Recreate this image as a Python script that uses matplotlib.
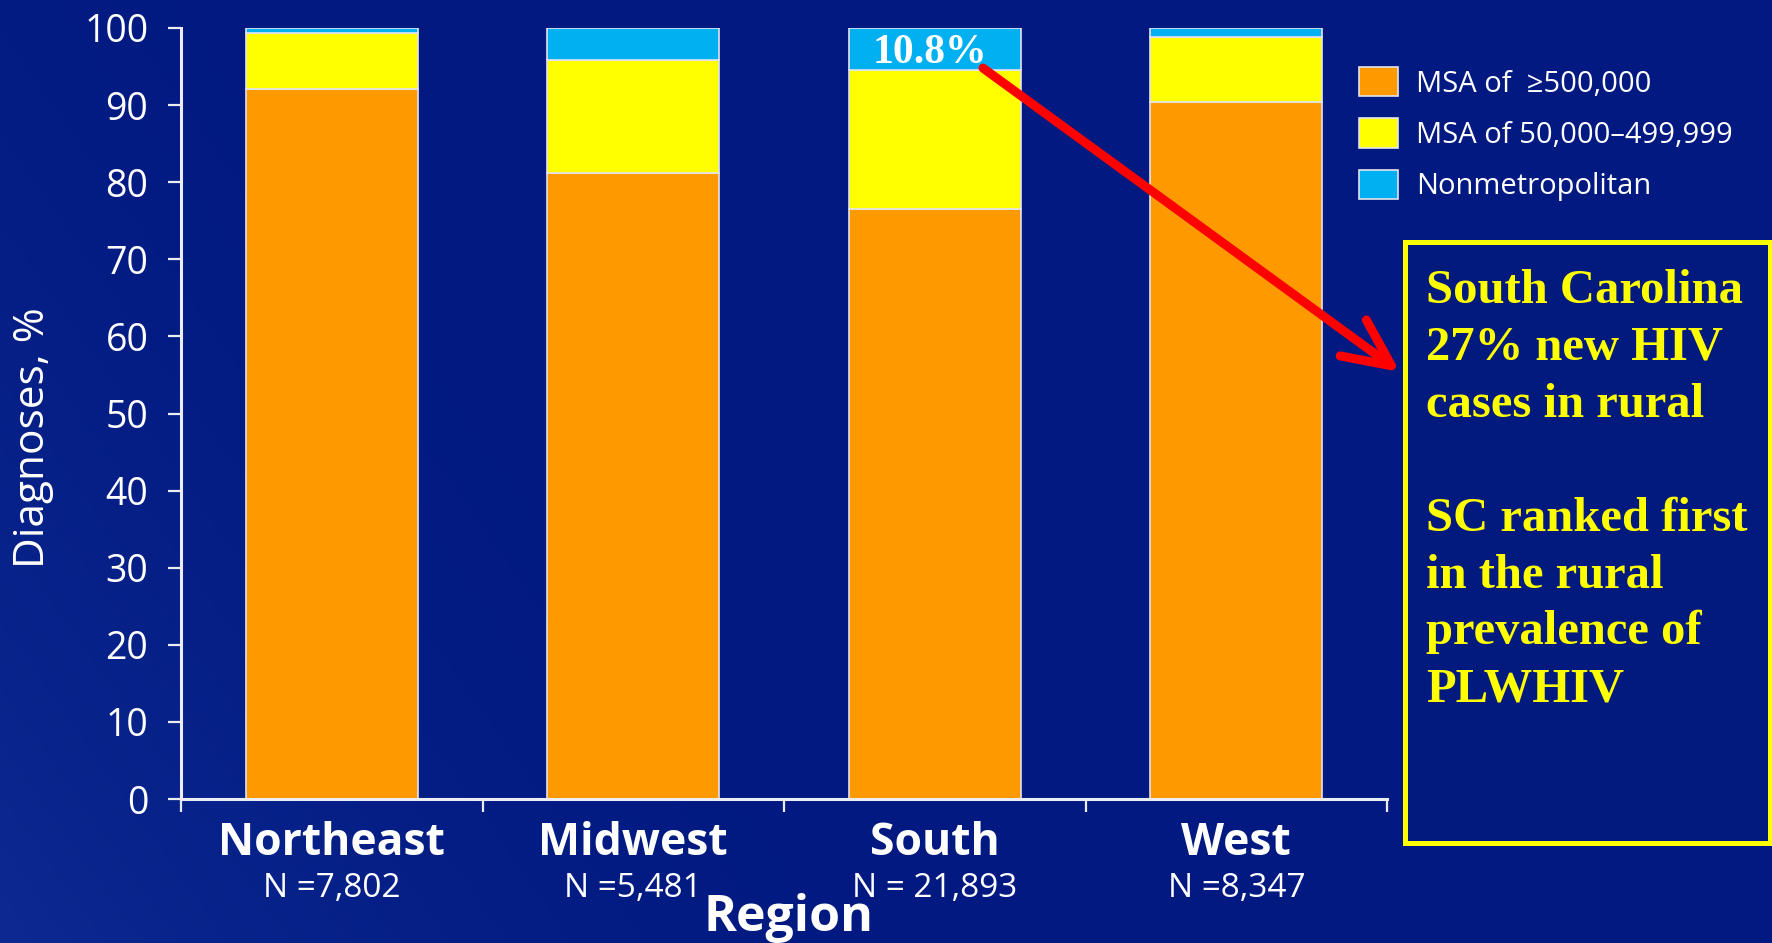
import numpy as np
import matplotlib.pyplot as plt
from matplotlib.patches import Rectangle
from matplotlib.transforms import blended_transform_factory

# Share of HIV diagnoses by area of residence, per region (%)
regions = ["Northeast", "Midwest", "South", "West"]
region_n = ["N =7,802", "N =5,481", "N = 21,893", "N =8,347"]
msa_large = [92.1, 81.2, 76.5, 90.4]
msa_small = [7.25, 14.65, 18.0, 8.4]
nonmetro = [0.65, 4.15, 5.5, 1.2]
series_labels = ["MSA of  \u2265500,000", "MSA of 50,000\u2013499,999", "Nonmetropolitan"]
series_colors = ["#FF9900", "#FFFF00", "#00B0F0"]

south_callout = "10.8%"
note_lines = ["South Carolina", "27% new HIV", "cases in rural", "",
              "SC ranked first", "in the rural", "prevalence of", "PLWHIV"]

W, H = 1772, 943
SANS = ["Open Sans", "DejaVu Sans"]
SERIF = ["Liberation Serif", "DejaVu Serif"]
FG = "#ECECF4"

fig = plt.figure(figsize=(W / 100, H / 100), dpi=100)

# slide background: dark navy with a faint diagonal sheen
bg = fig.add_axes([0, 0, 1, 1], zorder=-10)
yy, xx = np.mgrid[0:1:200j, 0:1:400j]
shade = np.clip(1.0 - (xx * 1.6 + (1 - yy) * 0.6), 0, 1) ** 2
c0 = np.array([0x01, 0x19, 0x80]) / 255
c1 = np.array([0x0C, 0x2A, 0x92]) / 255
img = c0 + (c1 - c0) * shade[..., None]
bg.imshow(img, aspect="auto", extent=[0, 1, 0, 1], origin="upper")
bg.axis("off")

ax = fig.add_axes([181 / W, 1 - 799 / H, (1387 - 181) / W, (799 - 28) / H])
ax.patch.set_alpha(0)

x = np.arange(len(regions))
bottom = np.zeros(len(regions))
bars = []
for vals, lab, col in zip([msa_large, msa_small, nonmetro], series_labels, series_colors):
    b = ax.bar(x, vals, width=0.57, bottom=bottom, color=col, edgecolor="#E4E4EC",
               linewidth=1.2, label=lab)
    bars.append(b)
    bottom += np.array(vals)

ax.set_xlim(-0.5, 3.5)
ax.set_ylim(0, 100)
ax.set_yticks(np.arange(0, 101, 10))
ax.set_xticks(x)
ax.set_xticks(np.arange(-0.5, 4, 1), minor=True)
ax.set_xticklabels(regions, fontsize=32, fontweight="bold", color="white", family=SANS)
ax.tick_params(axis="x", which="major", length=0, pad=16)
ax.tick_params(axis="x", which="minor", length=9.5, width=1.6, color=FG, direction="out")
ax.tick_params(axis="y", length=9.5, width=1.6, color=FG, direction="out", pad=14,
               labelsize=27, labelcolor="white")
for t in ax.get_yticklabels():
    t.set_family(SANS)
for s in ["top", "right"]:
    ax.spines[s].set_visible(False)
for s in ["left", "bottom"]:
    ax.spines[s].set_color(FG)
    ax.spines[s].set_linewidth(2.2)

# sample sizes under each region name
n_trans = blended_transform_factory(ax.transData, fig.transFigure)
for xi, n in zip(x, region_n):
    ax.text(xi, 1 - 897 / H, n, transform=n_trans, ha="center", va="baseline",
            fontsize=24, color="white", family=SANS)

fig.text(33 / W, 1 - 438 / H, "Diagnoses, %", rotation=90, ha="center", va="center",
         fontsize=30.5, color="white", family=SANS)
fig.text(788 / W, 1 - 931 / H, "Region", ha="center", va="baseline",
         fontsize=36, fontweight="bold", color="white", family=SANS)

leg = fig.legend(handles=bars, loc="upper left", bbox_to_anchor=(1359 / W, 1 - 67 / H),
                 bbox_transform=fig.transFigure, frameon=False, borderpad=0,
                 borderaxespad=0, handlelength=1.35, handleheight=1.17,
                 handletextpad=0.6, labelspacing=0.68, prop={"family": SANS, "size": 21})
for t in leg.get_texts():
    t.set_color("white")

# callout on the South bar
ax.text(1.985, 95.4, south_callout, ha="center", va="baseline", fontsize=30,
        fontweight="bold", color="white", family=SERIF)
ax.annotate("", xy=(1400 / W, 1 - 372 / H), xycoords="figure fraction",
            xytext=(2.16, 94.8), textcoords="data",
            arrowprops=dict(arrowstyle="->,head_length=3.4,head_width=1.6",
                            mutation_scale=10, color="#FF0000", lw=6.5,
                            capstyle="round", joinstyle="round",
                            shrinkA=0, shrinkB=0))

# yellow note box on the right
fig.add_artist(Rectangle((1405 / W, 1 - 843 / H), (1770 - 1405) / W, (843 - 242) / H,
                         transform=fig.transFigure, facecolor="#02197E",
                         edgecolor="#FFFF00", linewidth=3.6, zorder=1))
for i, line in enumerate(note_lines):
    fig.text(1426 / W, 1 - (303 + 56.9 * i) / H, line, ha="left", va="baseline",
             fontsize=35, fontweight="bold", color="#FFFF00", family=SERIF, zorder=2)

fig.savefig("out.png", dpi=100)
